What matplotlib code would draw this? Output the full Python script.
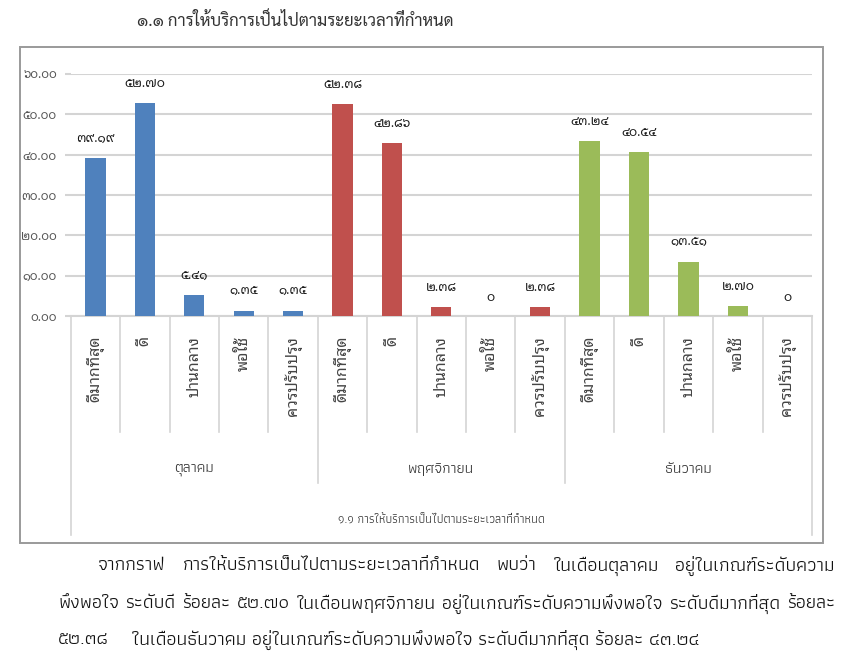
import matplotlib
matplotlib.use('Agg')
import matplotlib.pyplot as plt
import numpy as np
from matplotlib.patches import Rectangle
import matplotlib.transforms as mtransforms

# ---------------- data ----------------
months = ['ตุลาคม', 'พฤศจิกายน', 'ธันวาคม']
levels = ['ดีมากที่สุด', 'ดี', 'ปานกลาง', 'พอใช้', 'ควรปรับปรุง']
oct_vals = [39.19, 52.70, 5.41, 1.35, 1.35]
nov_vals = [52.38, 42.86, 2.38, 0, 2.38]
dec_vals = [43.24, 40.54, 13.51, 2.70, 0]
series = [oct_vals, nov_vals, dec_vals]
colors = ['#4F81BD', '#C0504D', '#9BBB59']
yticks = [0, 10, 20, 30, 40, 50, 60]
chart_title = '๑.๑ การให้บริการเป็นไปตามระยะเวลาที่กำหนด'
axis_title = '๑.๑ การให้บริการเป็นไปตามระยะเวลาที่กำหนด'
para_line1 = 'จากกราฟ การให้บริการเป็นไปตามระยะเวลาที่กำหนด พบว่า ในเดือนตุลาคม อยู่ในเกณฑ์ระดับความ'
para_line2 = 'พึงพอใจ ระดับดี ร้อยละ ๕๒.๗๐ ในเดือนพฤศจิกายน อยู่ในเกณฑ์ระดับความพึงพอใจ ระดับดีมากที่สุด ร้อยละ'
para_line3a = '๕๒.๓๘'
para_line3b = 'ในเดือนธันวาคม อยู่ในเกณฑ์ระดับความพึงพอใจ ระดับดีมากที่สุด ร้อยละ ๔๓.๒๔'

TH = str.maketrans('0123456789', '๐๑๒๓๔๕๖๗๘๙')
def th(s):
    return s.translate(TH)

LOOPED = ['Noto Sans Thai Looped', 'DejaVu Sans']
NARROW = ['Athiti', 'Noto Sans Thai', 'DejaVu Sans']
TITLE = ['Sarabun', 'DejaVu Sans']

W, H = 850, 660
fig = plt.figure(figsize=(W / 100, H / 100), dpi=100)
renderer = fig.canvas.get_renderer()

def fx(px):
    return px / W
def fy(py):
    return 1 - py / H

def text_width(s, size, family, weight='normal'):
    t = fig.text(0, 0, s, fontsize=size, family=family, fontweight=weight)
    w = t.get_window_extent(renderer).width
    t.remove()
    return w

# chart border box
fig.patches.append(Rectangle((fx(20), fy(543)), fx(823) - fx(20), fy(47) - fy(543),
                             transform=fig.transFigure, fill=False,
                             edgecolor='#9A9A9A', linewidth=1.4))

# title above chart
fig.text(fx(295), fy(21), chart_title, ha='center', va='center',
         fontsize=12, family=TITLE, color='#333333')

x_left, x_right = 70.7, 812
y_top, y_bot = 73.5, 316.5
ax = fig.add_axes([fx(x_left), fy(y_bot), fx(x_right) - fx(x_left), fy(y_top) - fy(y_bot)])

n = len(levels)
xs = []
vals = []
cols = []
for g, sv in enumerate(series):
    for i, v in enumerate(sv):
        xs.append(g * n + i)
        vals.append(v)
        cols.append(colors[g])
xs = np.array(xs)

ax.set_xlim(-0.5, len(xs) - 0.5)
ax.set_ylim(0, 60)
ax.set_yticks(yticks)
ax.set_yticklabels([th(f'{t:.2f}') for t in yticks], family=LOOPED, fontsize=8.5, color='#555555')
ax.yaxis.grid(True, color='#D4D4D4', linewidth=1.5)
ax.set_axisbelow(True)
ax.tick_params(axis='y', length=4, color='#D4D4D4', width=1.5, pad=6)
for s in ['top', 'right', 'left']:
    ax.spines[s].set_visible(False)
ax.spines['bottom'].set_color('#D4D4D4')
ax.spines['bottom'].set_linewidth(1.5)

ax.bar(xs, vals, width=0.41, color=cols, zorder=3)

# data labels
for x, v in zip(xs, vals):
    lab = th('0') if v == 0 else th(f'{v:.2f}')
    ax.annotate(lab, (x, v), xytext=(0, 14), textcoords='offset points',
                ha='center', va='center', fontsize=9, fontweight='bold',
                family=LOOPED, color='#1a1a1a')

# category labels (rotated)
ax.set_xticks(xs)
ax.set_xticklabels([levels[i % n] for i in range(len(xs))], rotation=90,
                   family=LOOPED, fontsize=11.5, color='#444444', va='top')
ax.tick_params(axis='x', length=0, pad=14)

# separators below axis
trans = mtransforms.blended_transform_factory(ax.transData, ax.transAxes)
axh = y_bot - y_top
def afy(py):
    return (y_bot - py) / axh
for b in range(len(xs) + 1):
    xb = b - 0.5
    if b == 0 or b == len(xs):
        yend = afy(535)
    elif b % n == 0:
        yend = afy(483)
    else:
        yend = afy(432)
    ax.plot([xb, xb], [0, yend], transform=trans, clip_on=False,
            color='#D4D4D4', linewidth=1.2)

# month group labels
for g, m in enumerate(months):
    ax.text(g * n + (n - 1) / 2, afy(470), m, transform=trans, ha='center', va='center',
            family=NARROW, fontsize=11, color='#333333')

# axis title (fit to reference width ~207 px)
at_size = 10.0 * 207.0 / text_width(axis_title, 10.0, NARROW)
ax.text((len(xs) - 1) / 2, afy(520), axis_title, transform=trans, ha='center', va='center',
        family=NARROW, fontsize=at_size, color='#333333')

# ---------- paragraph below chart (justified) ----------
x3b, x3end = 132, 700
base = 10.0
body_size = base * (x3end - x3b) / text_width(para_line3b, base, NARROW)

def justified(line, x0, x1, ypx):
    words = line.split()
    widths = [text_width(w, body_size, NARROW) for w in words]
    gap = (x1 - x0 - sum(widths)) / (len(words) - 1)
    x = x0
    for w, wd in zip(words, widths):
        fig.text(fx(x), fy(ypx), w, ha='left', va='center', fontsize=body_size,
                 family=NARROW, color='#111111')
        x += wd + gap

justified(para_line1, 98, 835, 566)
justified(para_line2, 58, 835, 604)
fig.text(fx(58), fy(640), para_line3a, ha='left', va='center', fontsize=body_size, family=NARROW, color='#111111')
fig.text(fx(x3b), fy(640), para_line3b, ha='left', va='center', fontsize=body_size, family=NARROW, color='#111111')

fig.savefig('out.png', dpi=100)
